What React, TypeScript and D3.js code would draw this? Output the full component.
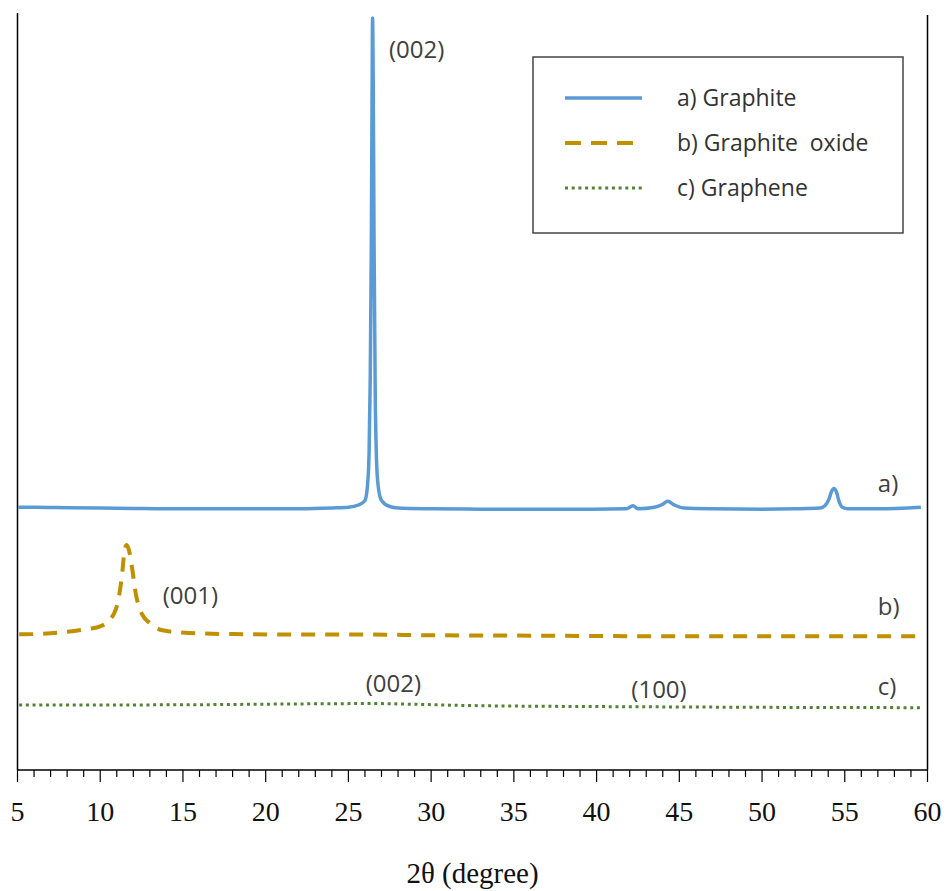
import React from "react";
import * as d3 from "d3";

const X_DOMAIN: [number, number] = [5, 60];
const Y_DOMAIN: [number, number] = [0, 100];
const MAJOR_TICKS = [5, 10, 15, 20, 25, 30, 35, 40, 45, 50, 55, 60];
const MINOR_TICKS = d3.range(5, 61, 1);

// 2θ (degree), intensity (a.u., stacked)
const graphite: [number, number][] = [
  [5.05, 34.8], [6, 34.8], [8, 34.75], [10, 34.7], [12, 34.65],
  [14, 34.6], [16, 34.6], [18, 34.6], [20, 34.6], [22, 34.6], [24, 34.7], [25, 34.8],
  [25.6, 35.1], [26.0, 35.7], [26.15, 37.6], [26.25, 42], [26.32, 52], [26.38, 68],
  [26.43, 89], [26.46, 99.6], [26.5, 91], [26.55, 70], [26.62, 50], [26.7, 41],
  [26.8, 37.6], [27.0, 35.7], [27.5, 34.9], [28, 34.7], [30, 34.6], [33, 34.55],
  [36, 34.55], [39, 34.55], [41.8, 34.6], [42.2, 35.0], [42.5, 34.6], [43.5, 34.8],
  [44.0, 35.2], [44.3, 35.6], [44.7, 35.1], [45.3, 34.7], [47, 34.6], [50, 34.55],
  [52, 34.6], [53.5, 34.7], [53.8, 35.0], [54.05, 35.9], [54.2, 36.9], [54.36, 37.3],
  [54.5, 36.8], [54.65, 35.6], [54.85, 34.8], [55.2, 34.6], [57, 34.6], [59.6, 34.8],
];

const graphiteOxide: [number, number][] = [
  [5.1, 17.97], [6, 18.0], [7, 18.1], [8, 18.3], [9, 18.6], [9.96, 19.0], [10.57, 19.87],
  [11.05, 22.1], [11.3, 25.5], [11.47, 29.0], [11.6, 29.8], [11.75, 29.0], [11.88, 27.4],
  [12.18, 23.0], [12.56, 20.5], [12.98, 19.5], [13.77, 18.5], [15.4, 18.15], [18, 18.0],
  [22, 17.95], [26, 17.95], [30, 17.85], [35, 17.8], [40, 17.75], [45, 17.7], [50, 17.7],
  [55, 17.7], [59.6, 17.7],
];

const graphene: [number, number][] = [
  [5.1, 8.6], [8, 8.6], [12, 8.62], [16, 8.65], [20, 8.72], [24, 8.78], [26.5, 8.8],
  [29, 8.7], [32, 8.55], [36, 8.45], [40, 8.4], [45, 8.35], [50, 8.3], [55, 8.28],
  [59.6, 8.25],
];

const SERIES_NAMES = ["a) Graphite", "b) Graphite  oxide", "c) Graphene"];
const SERIES_COLORS = ["#5b9bd5", "#bf9000", "#548235"];

// annotation text, anchored in data coordinates (2θ, intensity)
const ANNOTATIONS: { text: string; x: number; y: number }[] = [
  { text: "(002)", x: 27.45, y: 94.3 },
  { text: "a)", x: 57.0, y: 36.8 },
  { text: "(001)", x: 13.78, y: 22.0 },
  { text: "b)", x: 57.0, y: 20.5 },
  { text: "(002)", x: 26.05, y: 10.33 },
  { text: "(100)", x: 42.1, y: 9.54 },
  { text: "c)", x: 57.0, y: 9.93 },
];

const W = 947;
const H = 891;
const LEFT = 17.5;
const RIGHT = 927.5;
const TOP = 15;
const BOTTOM = 770;

export default function App() {
  const x = d3.scaleLinear().domain(X_DOMAIN).range([LEFT, RIGHT]);
  const y = d3.scaleLinear().domain(Y_DOMAIN).range([BOTTOM, TOP]);
  const line = d3
    .line<[number, number]>()
    .x((d) => x(d[0]))
    .y((d) => y(d[1]))
    .curve(d3.curveMonotoneX);

  const sansFont = "'Open Sans', 'Noto Sans', sans-serif";
  const serifFont = "'Liberation Serif', 'Times New Roman', serif";

  const series = [
    { data: graphite, width: 3.5, dash: undefined as string | undefined },
    { data: graphiteOxide, width: 4, dash: "14 10" },
    { data: graphene, width: 3, dash: "3 3.7" },
  ];

  return (
    <svg
      width={W}
      height={H}
      style={{ position: "absolute", left: 0, top: 0, background: "#fff" }}
    >
      <rect x={0} y={0} width={W} height={H} fill="#fff" />
      {/* frame */}
      <line x1={LEFT} x2={LEFT} y1={13} y2={BOTTOM} stroke="#000" strokeWidth={1.5} />
      <line x1={RIGHT} x2={RIGHT} y1={TOP} y2={BOTTOM} stroke="#000" strokeWidth={1.5} />
      <line x1={LEFT} x2={RIGHT} y1={BOTTOM} y2={BOTTOM} stroke="#000" strokeWidth={1.5} />
      {/* ticks */}
      {MINOR_TICKS.map((t) => (
        <line
          key={"m" + t}
          x1={x(t)}
          x2={x(t)}
          y1={BOTTOM}
          y2={BOTTOM + (t % 5 === 0 ? 12 : 7)}
          stroke="#000"
          strokeWidth={1.2}
        />
      ))}
      {MAJOR_TICKS.map((t) => (
        <text
          key={"l" + t}
          x={x(t)}
          y={821}
          textAnchor="middle"
          fontFamily={serifFont}
          fontSize={28}
          fill="#111"
        >
          {t}
        </text>
      ))}
      <text
        x={(LEFT + RIGHT) / 2}
        y={883}
        textAnchor="middle"
        fontFamily={serifFont}
        fontSize={29}
        fill="#111"
      >
        2θ (degree)
      </text>
      {/* series */}
      {series.map((s, i) => (
        <path
          key={"s" + i}
          d={line(s.data) || ""}
          fill="none"
          stroke={SERIES_COLORS[i]}
          strokeWidth={s.width}
          strokeDasharray={s.dash}
          strokeLinejoin="round"
        />
      ))}
      {/* annotations */}
      {ANNOTATIONS.map((a, i) => (
        <text
          key={"a" + i}
          x={x(a.x)}
          y={y(a.y)}
          fontFamily={sansFont}
          fontSize={24}
          fill="#404040"
        >
          {a.text}
        </text>
      ))}
      {/* legend */}
      <rect x={533} y={57} width={370} height={176} fill="#fff" stroke="#444" strokeWidth={1.5} />
      {SERIES_NAMES.map((name, i) => (
        <g key={"lg" + i} transform={`translate(0, ${98 + i * 45})`}>
          <line
            x1={565}
            x2={642}
            y1={0}
            y2={0}
            stroke={SERIES_COLORS[i]}
            strokeWidth={series[i].width}
            strokeDasharray={i === 1 ? "16 10" : series[i].dash}
          />
          <text
            x={677}
            y={0}
            dy="0.35em"
            fontFamily={sansFont}
            fontSize={23}
            fill="#333"
            style={{ whiteSpace: "pre" }}
          >
            {name}
          </text>
        </g>
      ))}
    </svg>
  );
}
